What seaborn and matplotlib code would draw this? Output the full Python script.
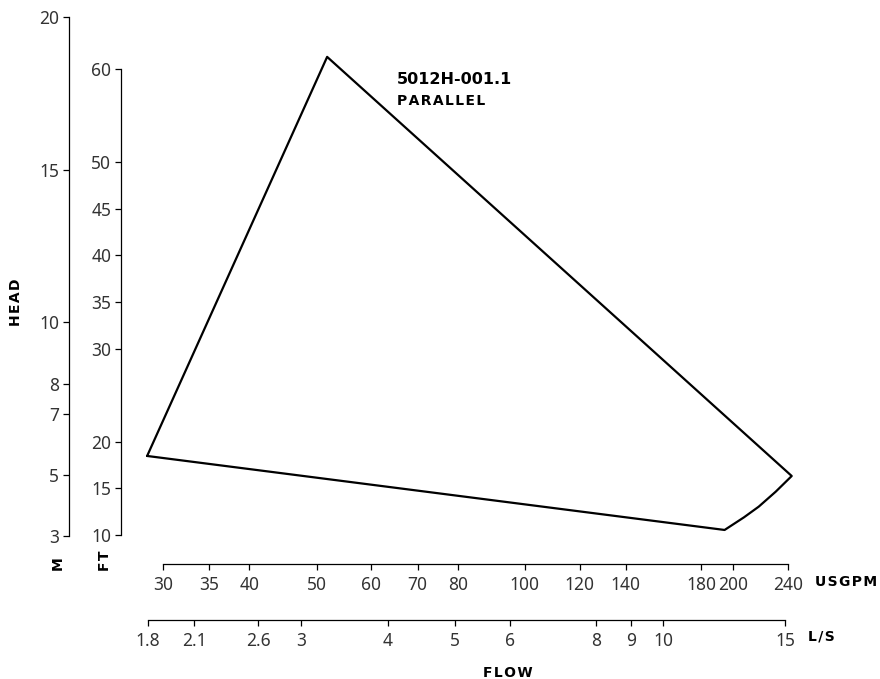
import matplotlib

matplotlib.use("Agg")

import matplotlib.pyplot as plt
import pandas as pd
import seaborn as sns
from matplotlib.ticker import FixedFormatter, FixedLocator, NullLocator

# operating envelope, going round from the left corner
flow_gpm = [28.45, 51.8, 243.2, 230.6, 217.9, 207.5, 194.5, 28.45]
head_ft = [18.48, 61.3, 16.33, 14.65, 13.04, 11.9, 10.54, 18.48]

gpm_ticks = [30, 35, 40, 50, 60, 70, 80, 100, 120, 140, 180, 200, 240]
ls_ticks = [1.8, 2.1, 2.6, 3, 4, 5, 6, 8, 9, 10, 15]
ft_ticks = [10, 15, 20, 30, 35, 40, 45, 50, 60]
m_ticks = [3, 5, 7, 8, 10, 15, 20]

GPM_PER_LS = 15.85
M_PER_FT = 0.3048

W, H = 880, 679


def fx(px):
    return px / W


def fy(py):
    return 1 - py / H


def spaced(s):
    # a little letter spacing like the original labels
    return "\u200a".join(s)


sns.set_theme(style="white")
plt.rcParams["font.family"] = ["Noto Sans", "DejaVu Sans"]

df = pd.DataFrame({"gpm": flow_gpm, "ft": head_ft})

fig = plt.figure(figsize=(W / 100, H / 100), dpi=100)
ax = fig.add_axes([fx(121), fy(564), (800 - 121) / W, (564 - 10) / H])
ax.set_xscale("log")

sns.lineplot(data=df, x="gpm", y="ft", sort=False, estimator=None,
             color="black", linewidth=1.6, ax=ax)

ax.set_xlim(26.08, 250)
ax.set_ylim(6.888, 66.33)
ax.set_xlabel("")
ax.set_ylabel("")

for side in ["top", "right"]:
    ax.spines[side].set_visible(False)
ax.spines["left"].set_bounds(10, 60)
ax.spines["bottom"].set_bounds(30, 240)

ax.xaxis.set_major_locator(FixedLocator(gpm_ticks))
ax.xaxis.set_major_formatter(FixedFormatter([str(t) for t in gpm_ticks]))
ax.xaxis.set_minor_locator(NullLocator())
ax.set_yticks(ft_ticks, labels=[str(t) for t in ft_ticks])

# metres on a second left axis
secy = ax.secondary_yaxis(-52 / 679, functions=(lambda f: f * M_PER_FT,
                                                 lambda m: m / M_PER_FT))
secy.set_yticks(m_ticks, labels=[str(t) for t in m_ticks])
secy.spines["left"].set_bounds(3, 20)

# litres per second under the gpm axis
secx = ax.secondary_xaxis(-56 / 554, functions=(lambda g: g / GPM_PER_LS,
                                                 lambda l: l * GPM_PER_LS))
secx.set_xticks(ls_ticks, labels=[f"{t:g}" for t in ls_ticks])
secx.xaxis.set_minor_locator(NullLocator())
secx.spines["bottom"].set_bounds(1.8, 15)

for a in [ax, secx, secy]:
    for sp in a.spines.values():
        sp.set_color("black")
        sp.set_linewidth(0.9)
    a.tick_params(length=4, width=0.9, color="black", labelsize=12.5,
                  labelcolor="#333333", pad=3, direction="out")
ax.tick_params(bottom=True, left=True)
secy.tick_params(left=True)
secx.tick_params(bottom=True)
ax.tick_params(axis="x", pad=5)
secx.tick_params(pad=5)

bold = dict(fontweight="bold", color="black", family="DejaVu Sans")
fig.text(fx(16), fy(302), spaced("HEAD"), rotation=90, ha="center",
         va="center", fontsize=10, **bold)
fig.text(fx(58), fy(563), "M", rotation=90, ha="center", va="center",
         fontsize=10, **bold)
fig.text(fx(105), fy(561), spaced("FT"), rotation=90, ha="center",
         va="center", fontsize=10, **bold)
fig.text(fx(815), fy(582), spaced("USGPM"), ha="left", va="center",
         fontsize=10, **bold)
fig.text(fx(808), fy(637), spaced("L/S"), ha="left", va="center",
         fontsize=10, **bold)
fig.text(fx(508), fy(673), spaced("FLOW"), ha="center", va="center",
         fontsize=10, **bold)

ax.text(fx(397), fy(79), "5012H-001.1", transform=fig.transFigure,
        ha="left", va="center", fontsize=11.5, **bold)
ax.text(fx(397), fy(101), spaced("PARALLEL"), transform=fig.transFigure,
        ha="left", va="center", fontsize=10, **bold)

fig.savefig("out.png", dpi=100)
